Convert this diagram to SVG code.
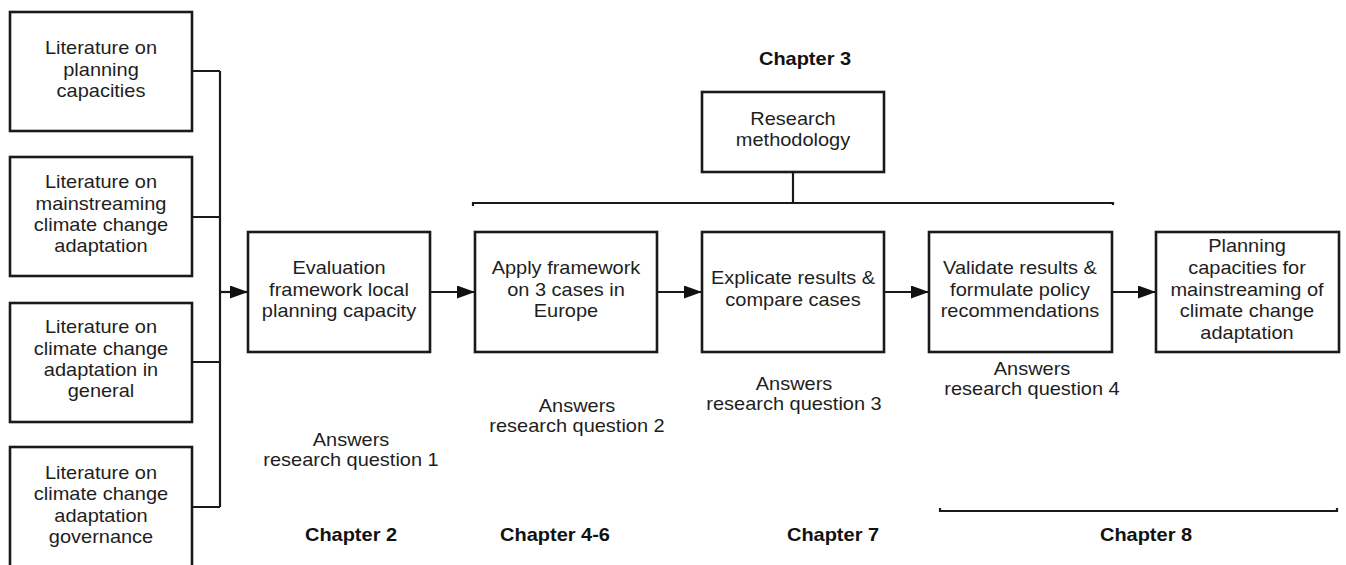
<svg xmlns="http://www.w3.org/2000/svg" width="1346" height="565" viewBox="0 0 1346 565">
  <defs>
    <marker id="arrow" viewBox="0 0 18 13" refX="18" refY="6.5" markerWidth="18" markerHeight="13" markerUnits="userSpaceOnUse" orient="auto">
      <path d="M0,0 L18,6.5 L0,13 Z" fill="#111"/>
    </marker>
  </defs>
  <style>
    .box { fill: #fff; stroke: #1a1a1a; stroke-width: 2.6; }
    .line { fill: none; stroke: #1a1a1a; stroke-width: 2.2; }
    text { font-family: "Liberation Sans", Arial, sans-serif; font-size: 18px; fill: #1e1e1e; text-anchor: middle; }
    .ch { font-weight: bold; fill: #111; }
  </style>
  <rect width="1346" height="565" fill="#fff"/>

  <!-- connectors -->
  <g id="connectors">
    <path class="line" d="M192,71 H220 M192,217 H220 M192,362 H220 M192,507 H220 M220,71 V507"/>
    <path class="line" d="M220,292 H248" marker-end="url(#arrow)"/>
    <path class="line" d="M430,292 H475" marker-end="url(#arrow)"/>
    <path class="line" d="M657,292 H702" marker-end="url(#arrow)"/>
    <path class="line" d="M884,292 H929" marker-end="url(#arrow)"/>
    <path class="line" d="M1112,292 H1156" marker-end="url(#arrow)"/>
    <!-- chapter 3 bracket -->
    <path class="line" d="M793,172 V203 M473,206 V203 H1113 V205"/>
    <!-- chapter 8 bracket -->
    <path class="line" d="M940,508 V511 H1337 V508"/>
  </g>

  <!-- literature inputs -->
  <g id="lit-planning">
    <rect class="box" x="10" y="12" width="182" height="119"/>
    <text transform="translate(101,0) scale(1.11,1)"><tspan x="0" y="54">Literature on</tspan><tspan x="0" y="76">planning</tspan><tspan x="0" y="97">capacities</tspan></text>
  </g>
  <g id="lit-mainstreaming">
    <rect class="box" x="10" y="157" width="182" height="119"/>
    <text transform="translate(101,0) scale(1.11,1)"><tspan x="0" y="188">Literature on</tspan><tspan x="0" y="210">mainstreaming</tspan><tspan x="0" y="231">climate change</tspan><tspan x="0" y="252">adaptation</tspan></text>
  </g>
  <g id="lit-adaptation">
    <rect class="box" x="10" y="303" width="182" height="119"/>
    <text transform="translate(101,0) scale(1.11,1)"><tspan x="0" y="333">Literature on</tspan><tspan x="0" y="355">climate change</tspan><tspan x="0" y="376">adaptation in</tspan><tspan x="0" y="397">general</tspan></text>
  </g>
  <g id="lit-governance">
    <rect class="box" x="10" y="447" width="182" height="130"/>
    <text transform="translate(101,0) scale(1.11,1)"><tspan x="0" y="479">Literature on</tspan><tspan x="0" y="500">climate change</tspan><tspan x="0" y="522">adaptation</tspan><tspan x="0" y="543">governance</tspan></text>
  </g>

  <!-- process steps -->
  <g id="evaluation">
    <rect class="box" x="248" y="232" width="182" height="120"/>
    <text transform="translate(339,0) scale(1.11,1)"><tspan x="0" y="274">Evaluation</tspan><tspan x="0" y="296">framework local</tspan><tspan x="0" y="317">planning capacity</tspan></text>
  </g>
  <g id="apply">
    <rect class="box" x="475" y="232" width="182" height="120"/>
    <text transform="translate(566,0) scale(1.11,1)"><tspan x="0" y="274">Apply framework</tspan><tspan x="0" y="296">on 3 cases in</tspan><tspan x="0" y="317">Europe</tspan></text>
  </g>
  <g id="explicate">
    <rect class="box" x="702" y="232" width="182" height="120"/>
    <text transform="translate(793,0) scale(1.11,1)"><tspan x="0" y="284">Explicate results &amp;</tspan><tspan x="0" y="306">compare cases</tspan></text>
  </g>
  <g id="validate">
    <rect class="box" x="929" y="232" width="183" height="120"/>
    <text transform="translate(1020,0) scale(1.11,1)"><tspan x="0" y="274">Validate results &amp;</tspan><tspan x="0" y="296">formulate policy</tspan><tspan x="0" y="317">recommendations</tspan></text>
  </g>
  <g id="outcome">
    <rect class="box" x="1156" y="232" width="183" height="120"/>
    <text transform="translate(1247,0) scale(1.11,1)"><tspan x="0" y="252">Planning</tspan><tspan x="0" y="274">capacities for</tspan><tspan x="0" y="296">mainstreaming of</tspan><tspan x="0" y="317">climate change</tspan><tspan x="0" y="339">adaptation</tspan></text>
  </g>
  <g id="methodology">
    <rect class="box" x="702" y="92" width="182" height="80"/>
    <text transform="translate(793,0) scale(1.11,1)"><tspan x="0" y="125">Research</tspan><tspan x="0" y="146">methodology</tspan></text>
  </g>

  <!-- research question notes -->
  <g id="rq1"><text transform="translate(351,0) scale(1.11,1)"><tspan x="0" y="446">Answers</tspan><tspan x="0" y="466">research question 1</tspan></text></g>
  <g id="rq2"><text transform="translate(577,0) scale(1.11,1)"><tspan x="0" y="412">Answers</tspan><tspan x="0" y="432">research question 2</tspan></text></g>
  <g id="rq3"><text transform="translate(794,0) scale(1.11,1)"><tspan x="0" y="390">Answers</tspan><tspan x="0" y="410">research question 3</tspan></text></g>
  <g id="rq4"><text transform="translate(1032,0) scale(1.11,1)"><tspan x="0" y="375">Answers</tspan><tspan x="0" y="395">research question 4</tspan></text></g>

  <!-- chapter labels -->
  <g id="chapters">
    <text class="ch" transform="translate(805,65) scale(1.11,1)">Chapter 3</text>
    <text class="ch" transform="translate(351,541) scale(1.11,1)">Chapter 2</text>
    <text class="ch" transform="translate(555,541) scale(1.11,1)">Chapter 4-6</text>
    <text class="ch" transform="translate(833,541) scale(1.11,1)">Chapter 7</text>
    <text class="ch" transform="translate(1146,541) scale(1.11,1)">Chapter 8</text>
  </g>
</svg>
